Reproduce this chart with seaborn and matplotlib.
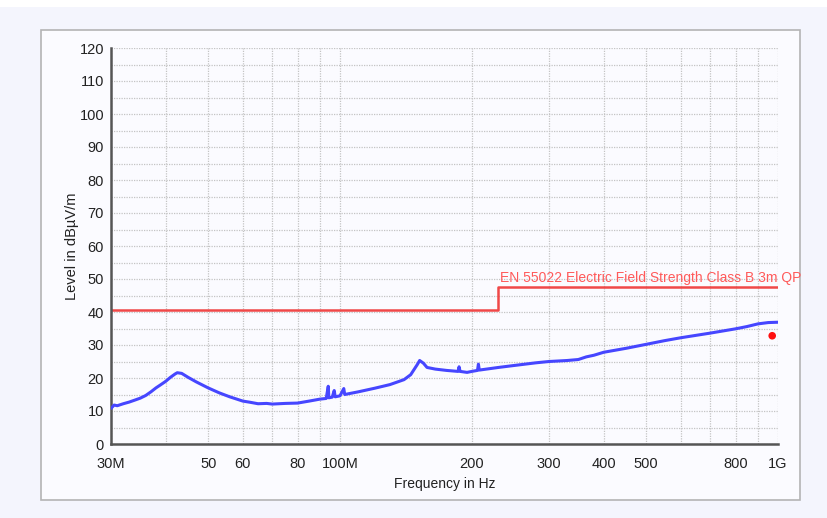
import numpy as np
import pandas as pd
import matplotlib.pyplot as plt
import seaborn as sns
from matplotlib.patches import Rectangle
from matplotlib.ticker import FixedLocator, NullFormatter

freq_mhz = [30, 30.5, 31, 32, 33, 34, 35, 36, 37, 38, 39, 40, 41, 42, 42.5, 43.5,
            45, 47, 50, 53, 56, 60, 62, 65, 68, 70, 75, 80, 85, 90, 93, 94, 94.3,
            96, 97, 97.5, 100, 102, 102.5, 110, 120, 130, 140, 145, 150, 152, 155,
            158, 165, 175, 186, 187, 188, 195, 200, 206, 207, 208, 230, 250, 280,
            300, 330, 350, 365, 380, 400, 450, 500, 550, 600, 700, 800, 850, 900, 950, 1000]
level_db = [10.8, 11.8, 11.6, 12.2, 12.7, 13.3, 13.9, 14.7, 15.8, 17.0, 18.0, 19.0,
            20.2, 21.2, 21.6, 21.4, 20.2, 18.8, 17.0, 15.5, 14.3, 13.0, 12.7, 12.2,
            12.3, 12.1, 12.3, 12.4, 13.0, 13.6, 13.8, 17.5, 14.0, 14.2, 16.2, 14.3,
            14.6, 16.8, 15.0, 15.8, 16.9, 18.0, 19.5, 21.0, 24.0, 25.3, 24.5, 23.2,
            22.7, 22.3, 22.0, 23.4, 22.0, 21.7, 22.0, 22.3, 24.2, 22.4, 23.2, 23.8,
            24.6, 25.0, 25.3, 25.6, 26.4, 26.9, 27.8, 29.0, 30.2, 31.3, 32.2, 33.6,
            34.9, 35.6, 36.4, 36.8, 36.9]

# EN 55022 class B 3m QP limit
limit_mhz = [30, 230, 230, 1000]
limit_db = [40.5, 40.5, 47.5, 47.5]
limit_name = 'EN 55022 Electric Field Strength Class B 3m QP'

# final QP measurement point
qp_mhz = [970]
qp_db = [32.8]

xtick_mhz = [30, 40, 50, 60, 70, 80, 90, 100, 200, 300, 400, 500, 600, 700, 800, 900, 1000]
xtick_labels = ['30M', '', '50', '60', '', '80', '', '100M', '200', '300', '400', '500',
                '', '', '800', '', '1G']

trace = pd.DataFrame({'f': np.array(freq_mhz) * 1e6, 'L': level_db})
limit = pd.DataFrame({'f': np.array(limit_mhz) * 1e6, 'L': limit_db})
qp = pd.DataFrame({'f': np.array(qp_mhz) * 1e6, 'L': qp_db})

sns.set_theme(style='white')
plt.rcParams['font.family'] = ['Liberation Sans', 'DejaVu Sans']

fig = plt.figure(figsize=(8.28, 5.18), dpi=100, facecolor='#f4f5fd')
fig.patches.append(Rectangle((0, 1 - 7 / 518), 1, 7 / 518, transform=fig.transFigure,
                             facecolor='white', edgecolor='none', zorder=-10))
fig.patches.append(Rectangle((41 / 828, 18 / 518), 759 / 828, 470 / 518,
                             transform=fig.transFigure, facecolor='#fbfbff',
                             edgecolor='#b4b4b4', lw=1.2, zorder=-10))

ax = fig.add_axes([111 / 828, 74 / 518, 667 / 828, 396 / 518])
ax.set_zorder(5)
ax.set_facecolor('#fbfbff')
ax.set_xscale('log')

sns.lineplot(data=trace, x='f', y='L', ax=ax, color='#4646ff', lw=2.2,
             estimator=None, sort=False, zorder=3)
sns.lineplot(data=limit, x='f', y='L', ax=ax, color='#f04848', lw=1.8,
             estimator=None, sort=False, zorder=2)
sns.scatterplot(data=qp, x='f', y='L', ax=ax, color='#ff1010', s=30,
                edgecolor='none', zorder=4)

ax.text(232e6, 48.3, limit_name, color='#ff5a5a', fontsize=10, ha='left', va='bottom')

ax.set_xlim(30e6, 1e9)
ax.set_ylim(0, 120)
ax.xaxis.set_major_locator(FixedLocator(np.array(xtick_mhz) * 1e6))
ax.set_xticklabels(xtick_labels)
ax.xaxis.set_minor_locator(FixedLocator([]))
ax.xaxis.set_minor_formatter(NullFormatter())
ax.set_yticks(range(0, 121, 10))
ax.set_yticks(range(5, 120, 10), minor=True)

ax.grid(True, which='both', axis='y', color='#c4c4c4', lw=0.9, ls=(0, (1, 1)))
ax.grid(True, which='major', axis='x', color='#c4c4c4', lw=0.9, ls=(0, (1, 1)))

for s in ['top', 'right']:
    ax.spines[s].set_visible(False)
for s in ['left', 'bottom']:
    ax.spines[s].set_color('#555555')
    ax.spines[s].set_linewidth(1.8)

ax.tick_params(axis='both', which='both', direction='inout', length=6, width=1.3,
               color='#444444', labelsize=10.5, labelcolor='#222222', pad=2)
ax.tick_params(axis='x', pad=6)

ax.set_xlabel('Frequency in Hz', fontsize=10, color='#222222', labelpad=5)
ax.set_ylabel('Level in dBµV/m', fontsize=10.5, color='#222222', labelpad=0.5)

fig.savefig('out.png', dpi=100, facecolor=fig.get_facecolor())
